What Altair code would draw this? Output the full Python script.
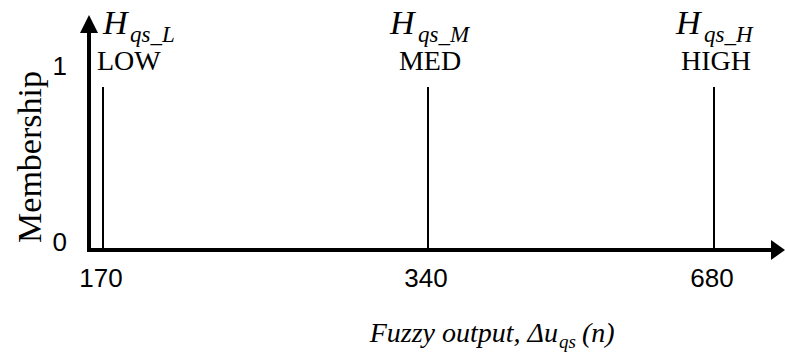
import altair as alt
import pandas as pd

# Singleton output sets of the fuzzy controller
set_values = [170, 340, 680]
set_membership = [1, 1, 1]
set_names = ["LOW", "MED", "HIGH"]
set_subscripts = ["qs_L", "qs_M", "qs_H"]
tick_labels = ["170", "340", "680"]

# Membership axis marks
member_values = [0, 1]
member_labels = ["0", "1"]

SERIF = "Liberation Serif"
SANS = "Liberation Sans"

sets = pd.DataFrame({
    "value": set_values,
    "mu": set_membership,
    "name": set_names,
    "sub": set_subscripts,
    "tick": tick_labels,
})
members = pd.DataFrame({"v": member_values, "label": member_labels})
one = pd.DataFrame({"k": [0]})

x_scale = alt.Scale(domain=set_values, range=[103, 428, 714], zero=False, nice=False)
y_scale = alt.Scale(domain=[0, 1], range=[250, 87], zero=False, nice=False)

X = alt.X("value:Q", scale=x_scale, axis=None)

base = alt.Chart(sets)

# vertical singleton spikes
spikes = base.mark_rule(color="black", strokeWidth=2).encode(
    x=X,
    y=alt.Y("base:Q", scale=y_scale, axis=None),
    y2="mu:Q",
).transform_calculate(base="0")

# value labels under the horizontal axis
ticks = base.mark_text(font=SANS, fontSize=26, align="center", baseline="alphabetic", dx=-2).encode(
    x=X, y=alt.value(287), text="tick:N"
)

first = alt.datum.name == "LOW"
rest = alt.datum.name != "LOW"

def set_heading(flt, dx_h, dx_sub, align_name, dx_name):
    h = base.mark_text(font=SERIF, fontStyle="italic", fontSize=34, align="left",
                       baseline="alphabetic", dx=dx_h).encode(
        x=X, y=alt.value(34), text=alt.value("H")).transform_filter(flt)
    s = base.mark_text(font=SERIF, fontStyle="italic", fontSize=23, align="left",
                       baseline="alphabetic", dx=dx_sub).encode(
        x=X, y=alt.value(42), text="sub:N").transform_filter(flt)
    n = base.mark_text(font=SERIF, fontSize=28, align=align_name,
                       baseline="alphabetic", dx=dx_name).encode(
        x=X, y=alt.value(70), text="name:N").transform_filter(flt)
    return [h, s, n]

headings = set_heading(first, 0, 27, "left", -6) + set_heading(rest, -38, -10, "center", 2)

# membership labels 0 and 1
mem = alt.Chart(members)
mem_zero = mem.mark_text(font=SANS, fontSize=26, align="right", baseline="alphabetic", dy=1).encode(
    x=alt.value(67), y=alt.Y("v:Q", scale=y_scale, axis=None), text="label:N"
).transform_filter(alt.datum.v == 0)
mem_one = mem.mark_text(font=SANS, fontSize=26, align="right", baseline="alphabetic", dy=-12).encode(
    x=alt.value(67), y=alt.Y("v:Q", scale=y_scale, axis=None), text="label:N"
).transform_filter(alt.datum.v == 1)

# axes drawn as thick lines with arrow heads
deco = alt.Chart(one)
x_axis = deco.mark_rule(color="black", strokeWidth=4).encode(
    x=alt.value(87), x2=alt.value(776), y=alt.value(250))
y_axis = deco.mark_rule(color="black", strokeWidth=4).encode(
    x=alt.value(89), y=alt.value(252), y2=alt.value(26))
up_arrow = deco.mark_point(shape="M0,-1L1,1L-1,1Z", filled=True, size=324,
                           color="black", opacity=1).encode(
    x=alt.value(89), y=alt.value(24))
right_arrow = deco.mark_point(shape="M1,0L-0.4,-1L-0.4,1Z", filled=True, size=400,
                              color="black", opacity=1).encode(
    x=alt.value(775), y=alt.value(250))

# axis titles
y_title = deco.mark_text(font=SERIF, fontSize=34, angle=270, align="center", baseline="middle").encode(
    x=alt.value(31), y=alt.value(157), text=alt.value("Membership"))
x_title_main = deco.mark_text(font=SERIF, fontStyle="italic", fontSize=28, align="right",
                              baseline="alphabetic").encode(
    x=alt.value(558), y=alt.value(342), text=alt.value("Fuzzy output, \u0394u"))
x_title_sub = deco.mark_text(font=SERIF, fontStyle="italic", fontSize=19, align="left",
                             baseline="alphabetic").encode(
    x=alt.value(559), y=alt.value(348), text=alt.value("qs"))
x_title_end = deco.mark_text(font=SERIF, fontStyle="italic", fontSize=28, align="left",
                             baseline="alphabetic").encode(
    x=alt.value(582), y=alt.value(342), text=alt.value("(n)"))

chart = alt.layer(
    spikes, ticks, *headings, mem_zero, mem_one,
    x_axis, y_axis, up_arrow, right_arrow,
    y_title, x_title_main, x_title_sub, x_title_end,
).properties(
    width=785, height=352, padding=0, autosize="none", background="white"
).configure_view(stroke=None)

chart.save("out.html", embed_options={"renderer": "svg", "actions": False})
